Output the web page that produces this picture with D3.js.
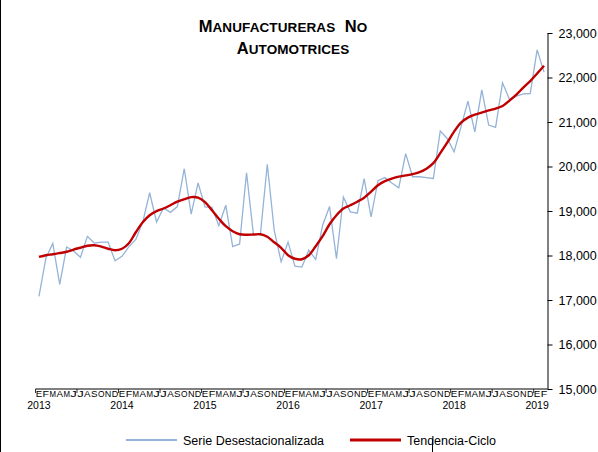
<!DOCTYPE html>
<html>
<head>
<meta charset="utf-8">
<script src="https://cdn.jsdelivr.net/npm/d3@7"></script>
<style>
  body { margin: 0; background: #fff; }
  svg { display: block; font-family: 'Liberation Sans', Arial, sans-serif; }
</style>
</head>
<body>
<div class="chart-container"></div>
<script>
// month letters (Spanish initials), Jan 2013 .. Feb 2019
const monthLetters = ['E', 'F', 'M', 'A', 'M', 'J', 'J', 'A', 'S', 'O', 'N', 'D']
const years = ['2013', '2014', '2015', '2016', '2017', '2018', '2019']
const yTicks = [15000, 16000, 17000, 18000, 19000, 20000, 21000, 22000, 23000]

// Serie Desestacionalizada
const serie = [
  17080, 17940, 18270, 17350, 18190, 18100, 17960, 18430, 18280, 18300, 18300, 17880,
  17980, 18200, 18360, 18750, 19410, 18750, 19070, 18970, 19100, 19950, 18930, 19630,
  19090, 19080, 18670, 19130, 18200, 18260, 19860, 18470, 18470, 20050, 18570, 17860,
  18300, 17760, 17740, 18120, 17910, 18680, 19100, 17930, 19310, 18980, 18950, 19730,
  18870, 19680, 19750, 19630, 19520, 20290, 19770, 19770, 19750, 19730, 20800, 20630,
  20330, 20890, 21470, 20780, 21720, 20930, 20880, 21880, 21510, 21580, 21630, 21640,
  22620, 22120,
]

// Tendencia-Ciclo
const tendencia = [
  17967, 18006, 18028, 18055, 18084, 18134, 18174, 18219, 18231, 18201, 18152, 18118,
  18152, 18276, 18523, 18748, 18906, 18996, 19056, 19130, 19209, 19265, 19311, 19299,
  19198, 19018, 18827, 18658, 18546, 18478, 18467, 18471, 18478, 18422, 18298, 18174,
  18006, 17927, 17916, 18006, 18208, 18433, 18703, 18906, 19056, 19130, 19209, 19299,
  19434, 19580, 19670, 19727, 19772, 19799, 19828, 19873, 19952, 20075, 20300, 20537,
  20784, 20987, 21099, 21167, 21212, 21261, 21301, 21358, 21481, 21616, 21774, 21920,
  22089, 22264,
]

const width = 598
const height = 452
const plot = { left: 35.5, right: 547.5, top: 33, bottom: 389 }
const blue = '#95b3d7'
const red = '#c00000'

const svg = d3
  .select('.chart-container')
  .append('svg')
  .attr('width', width)
  .attr('height', height)
  .attr('viewBox', '0 0 ' + width + ' ' + height)

const idx = d3.range(serie.length)

const x = d3
  .scalePoint()
  .domain(idx)
  .range([plot.left, plot.right])
  .padding(0.5)

const y = d3
  .scaleLinear()
  .domain([15000, 23000])
  .range([plot.bottom, plot.top])

// outer frame remnants
svg.append('line')
  .attr('x1', 0.5).attr('x2', 0.5)
  .attr('y1', 0).attr('y2', height)
  .attr('stroke', '#000').attr('stroke-width', 1)
svg.append('line')
  .attr('x1', 432.5).attr('x2', 432.5)
  .attr('y1', 439).attr('y2', height)
  .attr('stroke', '#000').attr('stroke-width', 1)

// title (small caps)
const title = svg.append('g')
  .attr('font-weight', 'bold')
  .attr('fill', '#000')
  .attr('text-anchor', 'middle')

const titleLines = [
  { parts: [['M', 'ANUFACTURERAS'], ['N', 'O']], x: 283, y: 32 },
  { parts: [['A', 'UTOMOTRICES']], x: 293, y: 54 },
]
titleLines.forEach((line) => {
  const t = title.append('text')
    .attr('x', line.x)
    .attr('y', line.y)
    .attr('letter-spacing', 0.1)
  line.parts.forEach((p, i) => {
    t.append('tspan')
      .attr('font-size', 16.5)
      .text((i > 0 ? '\u00a0\u00a0' : '') + p[0])
    t.append('tspan')
      .attr('font-size', 13.5)
      .text(p[1])
  })
})

// right y axis
const yAxis = svg.append('g')
  .attr('transform', `translate(${plot.right},0)`)
  .call(
    d3.axisRight(y)
      .tickValues(yTicks)
      .tickFormat(d3.format(','))
      .tickSize(5)
      .tickSizeOuter(0)
      .tickPadding(6)
  )
yAxis.selectAll('path, line').attr('stroke', '#000')
yAxis.selectAll('text')
  .attr('font-size', 12.5)
  .attr('font-family', "'Liberation Sans', Arial, sans-serif")
  .attr('fill', '#000')

// bottom axis line
svg.append('line')
  .attr('x1', plot.left).attr('x2', plot.right)
  .attr('y1', plot.bottom).attr('y2', plot.bottom)
  .attr('stroke', '#000').attr('stroke-width', 1)

// half-year tick marks
const step = x.step()
const tickIdx = idx.filter((i) => i % 6 === 0)
svg.append('g')
  .selectAll('line')
  .data(tickIdx)
  .enter()
  .append('line')
  .attr('x1', (d) => x(d) - step / 2)
  .attr('x2', (d) => x(d) - step / 2)
  .attr('y1', plot.bottom)
  .attr('y2', plot.bottom + 4)
  .attr('stroke', '#000')
  .attr('stroke-width', 0.8)

// month letters
svg.append('g')
  .attr('font-size', 9)
  .attr('fill', '#000')
  .attr('text-anchor', 'middle')
  .selectAll('text')
  .data(idx)
  .enter()
  .append('text')
  .attr('x', (d) => x(d))
  .attr('y', plot.bottom + 8)
  .attr('textLength', step - 0.4)
  .attr('lengthAdjust', 'spacingAndGlyphs')
  .text((d) => monthLetters[d % 12])

// year labels
svg.append('g')
  .attr('font-size', 10.5)
  .attr('fill', '#000')
  .attr('text-anchor', 'middle')
  .selectAll('text')
  .data(years)
  .enter()
  .append('text')
  .attr('x', (d, i) => x(i * 12))
  .attr('y', 409)
  .text((d) => d)

// series
const lineStraight = d3.line()
  .x((d, i) => x(i))
  .y((d) => y(d))

const lineSmooth = d3.line()
  .x((d, i) => x(i))
  .y((d) => y(d))
  .curve(d3.curveCatmullRom.alpha(0.5))

svg.append('path')
  .datum(serie)
  .attr('d', lineStraight)
  .attr('fill', 'none')
  .attr('stroke', blue)
  .attr('stroke-width', 1.3)

svg.append('path')
  .datum(tendencia)
  .attr('d', lineSmooth)
  .attr('fill', 'none')
  .attr('stroke', red)
  .attr('stroke-width', 2.4)

// legend
const legend = svg.append('g').attr('font-size', 12.5).attr('fill', '#000')
const legendItems = [
  { label: 'Serie Desestacionalizada', color: blue, w: 1.3, x: 126 },
  { label: 'Tendencia-Ciclo', color: red, w: 2.2, x: 350 },
]
legendItems.forEach((it) => {
  legend.append('line')
    .attr('x1', it.x).attr('x2', it.x + 51)
    .attr('y1', 440).attr('y2', 440)
    .attr('stroke', it.color)
    .attr('stroke-width', it.w + 0.6)
  legend.append('text')
    .attr('x', it.x + 57)
    .attr('y', 444.5)
    .text(it.label)
})
</script>
</body>
</html>
